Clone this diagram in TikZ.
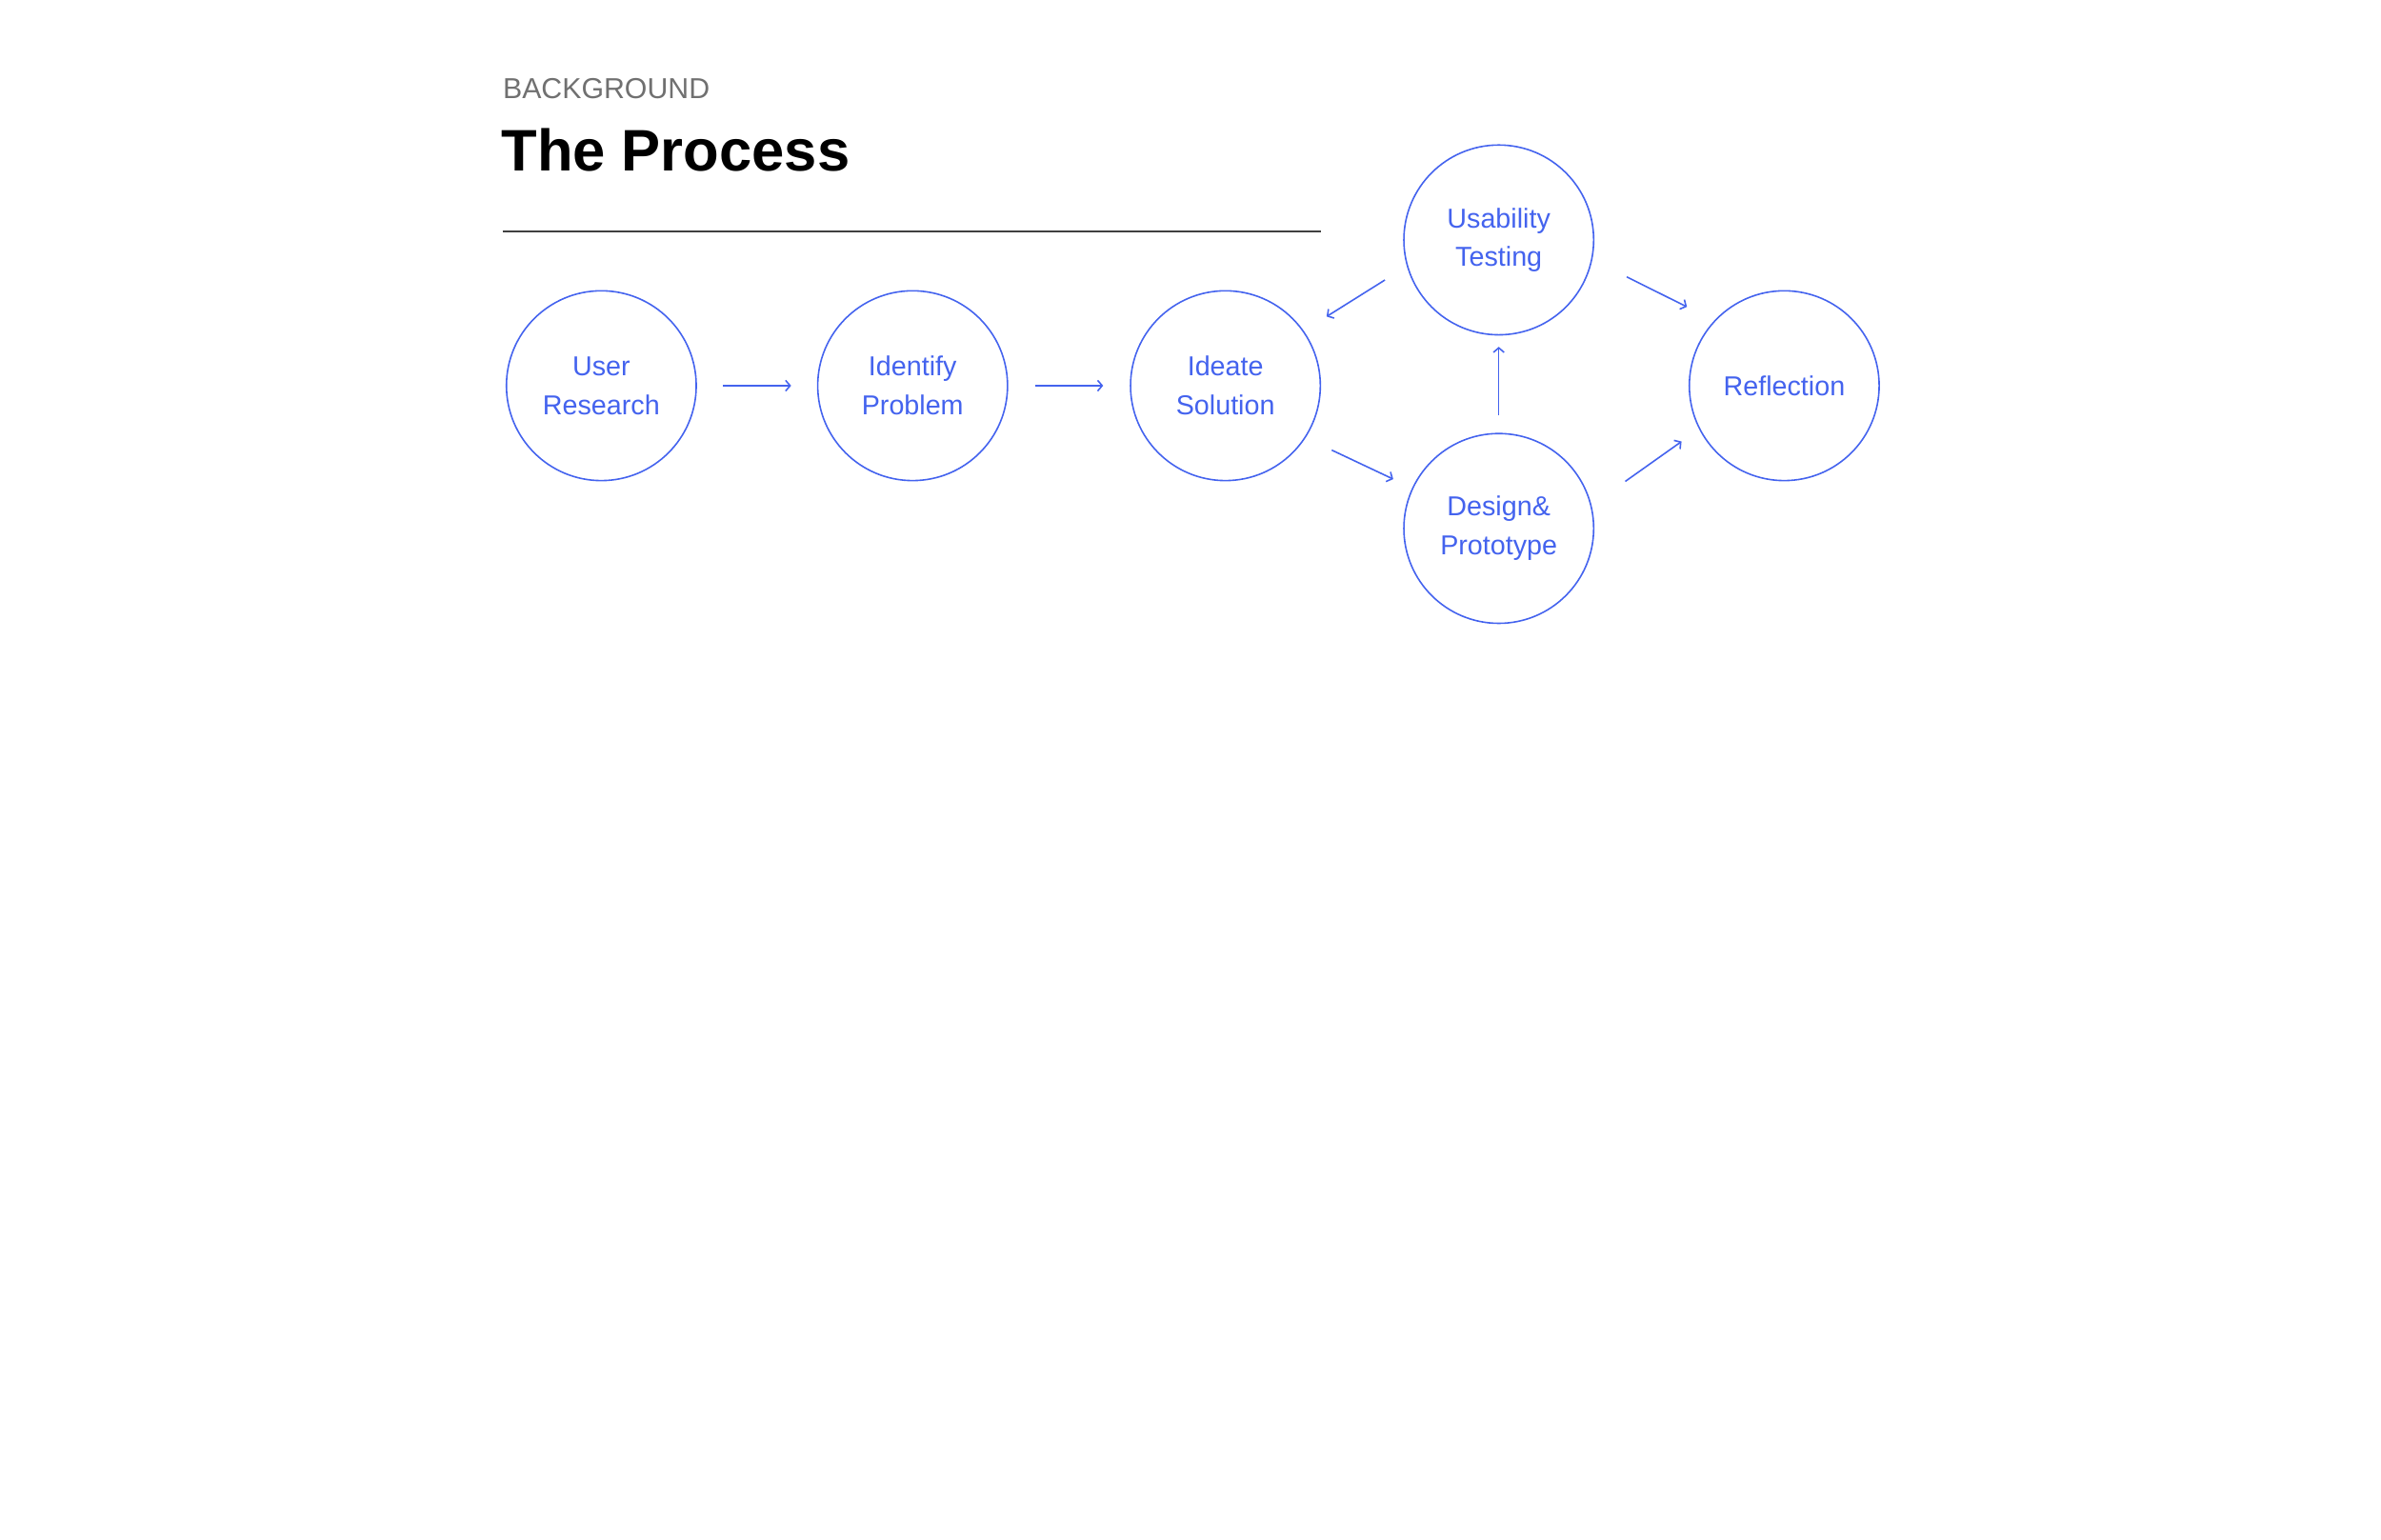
\documentclass[tikz,border=0pt]{standalone}
\usepackage{fontspec}
\setmainfont{Liberation Sans}
\usepackage{tikz}
\usetikzlibrary{
    positioning,
    arrows.meta
}
\definecolor{flowblue}{HTML}{4463EE}
\definecolor{labelgray}{HTML}{707070}
\definecolor{rulegray}{HTML}{404040}
\tikzset{
    >={Straight Barb[length=3pt,width=7pt]},
    stage/.style={
        circle,
        draw=flowblue,
        line width=1pt,
        minimum size=125pt,
        inner sep=0pt,
        align=center,
        text=flowblue,
        font=\fontsize{18}{25.5}\selectfont
    },
    flow/.style={
        ->,
        draw=flowblue,
        line width=1pt
    }
}

\begin{document}
\begin{tikzpicture}[
    x=1pt,
    y=-1pt
]
    \useasboundingbox (0,0) rectangle (1568,1013.6);

    % Titulo
    \node[anchor=base west, inner sep=0pt, text=labelgray,
          font=\fontsize{19}{23}\selectfont] (kicker) at (331,64.8) {BACKGROUND};
    \node[anchor=base west, inner sep=0pt,
          font=\fontsize{38.6}{44}\selectfont\bfseries] (title) at (330,112.5) {The Process};
    \draw[rulegray, line width=1.3pt] (331,152.6) -- (870,152.6);

    % Etapas
    \node[stage] (ur) at (396,254)  {User\\Research};
    \node[stage] (ip) at (601,254)  {Identify\\Problem};
    \node[stage] (is) at (807,254)  {Ideate\\Solution};

    \node[stage] (ut) at (987,158)  {Usability\\Testing};
    \node[stage] (dp) at (987,348)  {Design\&\\Prototype};

    \node[stage] (rf) at (1175,254) {Reflection};

    % Flechas
    \path[every edge/.style={flow}]

        % linea principal
        (ur.east)
            edge[shorten <=17pt, shorten >=17pt] (ip.west)
        (ip.east)
            edge[shorten <=17.5pt, shorten >=17.5pt] (is.west)

        % ciclo de diseno
        (is.327.8)
            edge[shorten <=19pt, shorten >=13.7pt] (dp.155.6)
        (dp.north)
            edge[shorten <=11.6pt, shorten >=7.4pt] (ut.south)
        (ut.196.5)
            edge[shorten <=17pt, shorten >=17.7pt] (is.35.7)

        % hacia la reflexion
        (ut.348.5)
            edge[shorten <=25.3pt, shorten >=20.1pt] (rf.137.2)
        (dp.14.3)
            edge[shorten <=27.2pt, shorten >=14.1pt] (rf.207.6);

\end{tikzpicture}
\end{document}
